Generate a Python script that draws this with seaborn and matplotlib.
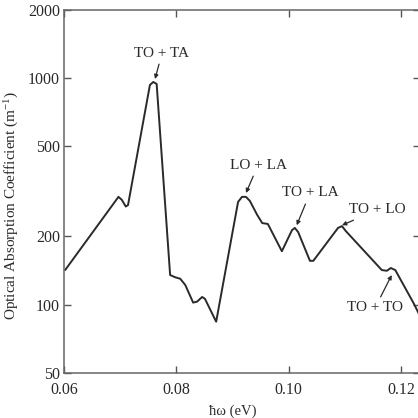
import pandas as pd
import matplotlib.pyplot as plt
import seaborn as sns

# photon energy (eV) and absorption coefficient (m^-1)
energy = [0.0602, 0.0697, 0.0703, 0.0710, 0.0714, 0.0753, 0.0759, 0.0765,
          0.0789, 0.0798, 0.0807, 0.0816, 0.0830, 0.0837, 0.0846, 0.0851,
          0.0871, 0.0910, 0.0917, 0.0924, 0.0931, 0.0944, 0.0953, 0.0963,
          0.0988, 0.1006, 0.1011, 0.1017, 0.1038, 0.1044, 0.1088, 0.1095,
          0.1102, 0.1166, 0.1175, 0.1182, 0.1190, 0.1223, 0.1232]
absorption = [142, 299, 290, 271, 275, 933, 962, 943,
              135, 132, 130, 122, 102, 103, 108, 106,
              84, 284, 299, 299, 287, 249, 229, 227,
              172, 213, 218, 209, 156, 156, 218, 222,
              211, 142, 141, 145, 142, 101, 91]

# peak labels: text position and arrow tip
labels = ["TO + TA", "LO + LA", "TO + LA", "TO + LO", "TO + TO"]
label_xy = [(0.07745, 1291), (0.09455, 413), (0.10381, 311), (0.11574, 262), (0.11539, 96.6)]
tip_xy = [(0.07621, 991), (0.09241, 311), (0.10144, 224), (0.10951, 224), (0.11836, 135)]

xticks = [0.06, 0.08, 0.10, 0.12]
yticks = [50, 100, 200, 500, 1000, 2000]

df = pd.DataFrame({"energy": energy, "absorption": absorption})

sns.set_style("ticks")
plt.rcParams["font.family"] = ["Liberation Serif", "DejaVu Serif"]
plt.rcParams["mathtext.default"] = "regular"

fig = plt.figure(figsize=(4.18, 4.18), dpi=100)
ax = fig.add_axes([64 / 418, 1 - 372.7 / 418, 356 / 418, 362.7 / 418])

sns.lineplot(data=df, x="energy", y="absorption", ax=ax, color="#2a2a2a",
             linewidth=1.4, sort=False)

ax.set_yscale("log")
ax.set_xlim(0.06, 0.1234)
ax.set_ylim(50, 2000)
ax.set_xticks(xticks)
ax.set_xticklabels([f"{t:.2f}" for t in xticks])
ax.set_yticks(yticks)
ax.set_yticklabels([str(t) for t in yticks])
ax.minorticks_off()
ax.tick_params(direction="in", length=5, width=1, colors="#555555",
               labelcolor="#2a2a2a", labelsize=11.5, top=True, right=True)
ax.tick_params(axis="x", pad=6.5)
ax.tick_params(axis="y", pad=3)
for s in ax.spines.values():
    s.set_color("#666666")
    s.set_linewidth(1.1)

ax.set_xlabel("ħω (eV)", fontsize=10.5, color="#2a2a2a")
ax.set_ylabel("Optical Absorption Coefficient (m$^{-1}$)", fontsize=11, color="#2a2a2a")
ax.xaxis.set_label_coords(0.475, -0.088)
ax.yaxis.set_label_coords(-0.12, 0.46)

for txt, xy_t, xy_p in zip(labels, label_xy, tip_xy):
    ax.annotate(txt, xy=xy_p, xytext=xy_t, ha="center", va="center",
                fontsize=11, color="#2a2a2a",
                arrowprops=dict(arrowstyle="-|>", color="#2a2a2a", lw=0.9,
                                mutation_scale=6, shrinkA=1, shrinkB=0))

fig.savefig("out.png", dpi=100)
